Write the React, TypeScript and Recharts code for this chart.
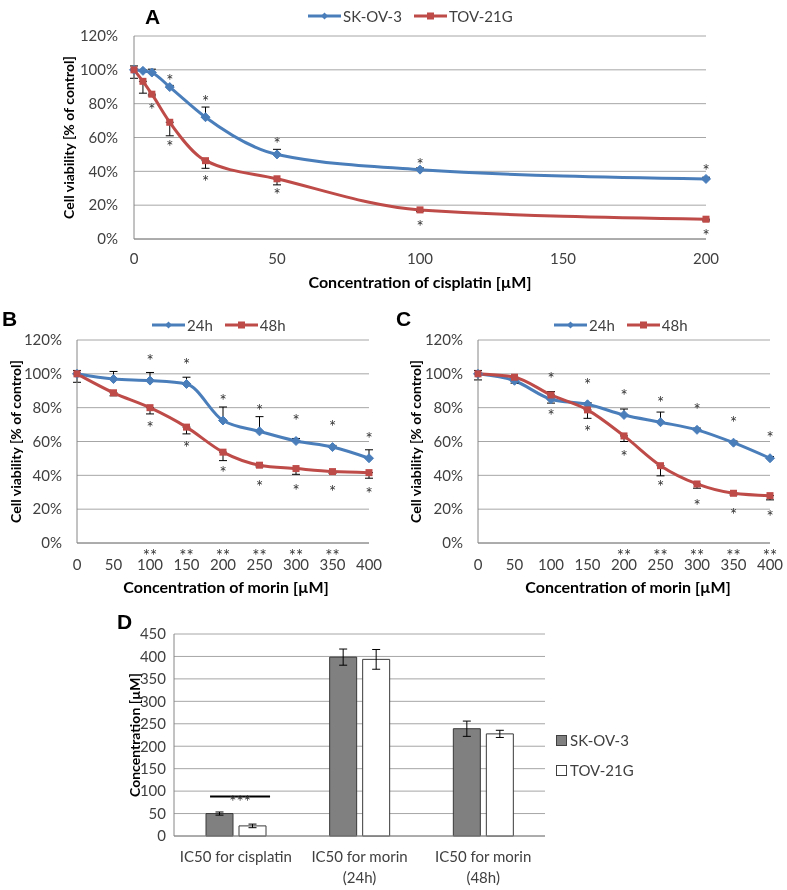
import React from 'react';
import {
  ComposedChart,
  Line,
  Scatter,
  XAxis,
  YAxis,
  CartesianGrid,
  ErrorBar,
  Legend,
  BarChart,
  Bar,
  LabelList,
} from 'recharts';

const FONT = 'Lato, "Open Sans", "DejaVu Sans", sans-serif';
const TEXT = '#404040';
const BLUE = '#4a7ebb';
const RED = '#be4b48';
const GRID = '#a6a6a6';
const AXIS = '#868686';
const TICK_SIZE = 15;
const STAR_SIZE = 17;

// ---------- Panel A : cisplatin ----------
const concA = [0, 3.125, 6.25, 12.5, 25, 50, 100, 200];
const skov3A = [100, 99.4, 98.4, 89.8, 72, 50, 41, 35.5];
const skov3ErrA = [2.3, 0.5, 2, 1, 6, 3, 1, 1];
const tov21gA = [100, 93.2, 85.6, 69, 46.3, 35.6, 17.2, 11.7];
const tov21gErrA = [5, 7, 1, 8, 4.5, 3.6, 1, 1];
const starsUpXA = [12.5, 25, 50, 100, 200];
const starsUpYA = [95.9, 83.5, 58.5, 46.3, 42.6];
const starsDownXA = [6.25, 12.5, 25, 50, 100, 200];
const starsDownYA = [78.6, 56.5, 36, 28.1, 9.7, 4.4];
const xTicksA = [0, 50, 100, 150, 200];
const seriesNamesA = ['SK-OV-3', 'TOV-21G'];

// ---------- Panels B, C : morin ----------
const concMorin = [0, 50, 100, 150, 200, 250, 300, 350, 400];
const seriesNamesMorin = ['24h', '48h'];

const h24B = [100, 96.9, 96, 94, 72.4, 66, 60.3, 56.7, 50.1];
const h24ErrB = [2, 4.5, 4.8, 4, 8, 8.7, 1.5, 1, 5];
const h48B = [100, 88.8, 80, 68.5, 53.7, 46, 44, 42.2, 41.6];
const h48ErrB = [5, 1.8, 3.7, 4, 5, 1, 3.4, 1, 3.3];
const starsUpXB = [100, 150, 200, 250, 300, 350, 400];
const starsUpYB = [109.8, 107.7, 86.6, 80.3, 74.7, 71, 63.9];
const starsDownXB = [100, 150, 200, 250, 300, 350, 400];
const starsDownYB = [70.4, 58.6, 43.7, 35.3, 33.3, 32.4, 31.4];
const doubleStarsB = [100, 150, 200, 250, 300, 350];

const h24C = [100, 95.9, 85, 82, 75.7, 71.4, 66.9, 59.3, 50.1];
const h24ErrC = [2, 1, 4.5, 1, 3.5, 6, 1, 1, 1];
const h48C = [100, 98, 87.5, 78.7, 63.3, 45.7, 34.9, 29.4, 28];
const h48ErrC = [3.6, 3.5, 4.8, 5, 3.3, 6, 2.5, 1, 2.5];
const starsUpXC = [100, 150, 200, 250, 300, 350, 400];
const starsUpYC = [99.4, 95.9, 89.5, 85.2, 80.7, 73.2, 64.3];
const starsDownXC = [100, 150, 200, 250, 300, 350, 400];
const starsDownYC = [77.3, 68.2, 53, 35.3, 24.4, 19.1, 17.6];
const doubleStarsC = [200, 250, 300, 350, 400];

const xTicksMorin = [0, 50, 100, 150, 200, 250, 300, 350, 400];
const yTicksPct = [0, 20, 40, 60, 80, 100, 120];

// ---------- Panel D : IC50 ----------
const categoriesD = ['IC50 for cisplatin', 'IC50 for morin (24h)', 'IC50 for morin (48h)'];
const seriesNamesD = ['SK-OV-3', 'TOV-21G'];
const ic50SKOV3 = [50, 398.5, 239];
const ic50SKOV3Err = [3.5, 18, 17];
const ic50TOV21G = [22.5, 393.5, 227.5];
const ic50TOV21GErr = [4, 22, 8];
const yTicksD = [0, 50, 100, 150, 200, 250, 300, 350, 400, 450];
const sigLevelD = 88;
const sigTextD = '***';

// ---------- helpers ----------
const mkSeries = (xs: number[], ys: number[], errs: number[], up: boolean) =>
  xs.map((x, i) => ({ x, y: ys[i], e: up ? [0, errs[i]] : [errs[i], 0] }));
const mkPts = (xs: number[], ys: number[]) => xs.map((x, i) => ({ x, y: ys[i] }));

const dataD = categoriesD.map((name, i) => ({
  name,
  sk: ic50SKOV3[i],
  skErr: ic50SKOV3Err[i],
  tov: ic50TOV21G[i],
  tovErr: ic50TOV21GErr[i],
}));

const DiamondDot = (p: any) => {
  const { cx, cy, index } = p;
  if (cx == null || cy == null) return null;
  const r = 4.5;
  return (
    <path
      key={`dm-${index}`}
      d={`M${cx},${cy - r}L${cx + r},${cy}L${cx},${cy + r}L${cx - r},${cy}Z`}
      fill={BLUE}
      stroke={BLUE}
      strokeWidth={1}
    />
  );
};

const SquareDot = (p: any) => {
  const { cx, cy, index } = p;
  if (cx == null || cy == null) return null;
  return <rect key={`sq-${index}`} x={cx - 3.5} y={cy - 3.5} width={7} height={7} fill={RED} />;
};

const StarShape = (p: any) => (
  <text x={p.cx} y={p.cy + 10} textAnchor="middle" fontFamily={FONT} fontSize={STAR_SIZE} fill="#333">
    *
  </text>
);

const makeXTick = (doubleStars: number[], numBase: number) => (p: any) => {
  const { x, y, payload } = p;
  const ax = y - 8;
  const has = doubleStars.includes(payload.value);
  return (
    <text x={x} textAnchor="middle" fontFamily={FONT} fill={TEXT}>
      {has && (
        <tspan x={x} y={ax + 19} fontSize={STAR_SIZE} fill="#333">
          **
        </tspan>
      )}
      <tspan x={x} y={ax + numBase} fontSize={TICK_SIZE}>
        {payload.value}
      </tspan>
    </text>
  );
};

const yTitle = (text: string, cx: number) => (p: any) => {
  const vb = p.viewBox || {};
  const cy = (vb.y ?? 0) + (vb.height ?? 0) / 2;
  return (
    <text
      x={cx}
      y={cy}
      transform={`rotate(-90, ${cx}, ${cy})`}
      textAnchor="middle"
      dominantBaseline="central"
      fontFamily={FONT}
      fontSize={14}
      fontWeight="bold"
      fill="#000"
    >
      {text}
    </text>
  );
};

const xTitle = (text: string, cx: number, baseline: number) => () => (
  <text x={cx} y={baseline} textAnchor="middle" fontFamily={FONT} fontSize={16} fontWeight="bold" fill="#000">
    {text}
  </text>
);

const LineLegend = ({ names }: { names: string[] }) => (
  <div
    style={{
      display: 'flex',
      alignItems: 'center',
      gap: 12,
      fontFamily: FONT,
      fontSize: 15,
      color: TEXT,
      whiteSpace: 'nowrap',
      height: 20,
    }}
  >
    {names.map((n, i) => (
      <div key={n} style={{ display: 'flex', alignItems: 'center', gap: 2 }}>
        <svg width={33} height={10}>
          <line x1={0} y1={5} x2={33} y2={5} stroke={i === 0 ? BLUE : RED} strokeWidth={3} />
          {i === 0 ? (
            <path d="M16.5,1.5L20,5L16.5,8.5L13,5Z" fill={BLUE} />
          ) : (
            <rect x={13} y={1.5} width={7} height={7} fill={RED} />
          )}
        </svg>
        <span>{n}</span>
      </div>
    ))}
  </div>
);

const BarLegend = () => (
  <div style={{ fontFamily: FONT, fontSize: 15, color: TEXT, whiteSpace: 'nowrap' }}>
    {seriesNamesD.map((n, i) => (
      <div key={n} style={{ display: 'flex', alignItems: 'center', height: 30 }}>
        <span
          style={{
            display: 'inline-block',
            width: 9,
            height: 9,
            border: '1px solid #404040',
            background: i === 0 ? '#808080' : '#fff',
            marginRight: 3,
          }}
        />
        {n}
      </div>
    ))}
  </div>
);

const CatTick = (p: any) => {
  const { x, y, payload } = p;
  const s: string = payload.value;
  const k = s.indexOf(' (');
  const lines = k >= 0 ? [s.slice(0, k), s.slice(k + 1)] : [s];
  return (
    <text x={x} textAnchor="middle" fontFamily={FONT} fontSize={TICK_SIZE} fill={TEXT}>
      {lines.map((l, i) => (
        <tspan key={i} x={x} y={y + 18 + i * 21}>
          {l}
        </tspan>
      ))}
    </text>
  );
};

const SigMark = (p: any) => {
  const vb = p.viewBox && p.viewBox.width != null ? p.viewBox : p;
  const idx = p.index;
  const isFirst = idx !== undefined ? idx === 0 : p.value === ic50SKOV3[0];
  if (!isFirst) return null;
  const { x, y, width, height } = vb;
  const ppu = height / ic50SKOV3[0];
  const base = y + height;
  const yLine = base - sigLevelD * ppu;
  const span = 2 * width + 6;
  const x0 = x + 0.15 * width;
  return (
    <g>
      <line x1={x0} x2={x0 + span} y1={yLine} y2={yLine} stroke="#000" strokeWidth={2} />
      <text x={x0 + span / 2} y={yLine + 12} textAnchor="middle" fontFamily={FONT} fontSize={STAR_SIZE} fill="#333">
        {sigTextD}
      </text>
    </g>
  );
};

type ViabilityProps = {
  width: number;
  height: number;
  margin: { top: number; right: number; bottom: number; left: number };
  yAxisWidth: number;
  yTickMargin: number;
  yTitleX: number;
  xAxisHeight: number;
  xTicks: number[];
  xDomain: [number, number];
  xTitleText: string;
  xTitleX: number;
  xTitleBaseline: number;
  numBase: number;
  lineBlue: any[];
  lineRed: any[];
  starsUp: any[];
  starsDown: any[];
  doubleStars: number[];
  legendLeft: number;
  legendTop: number;
  names: string[];
};

const ViabilityChart = (props: ViabilityProps) => {
  const {
    width, height, margin, yAxisWidth, yTickMargin, yTitleX, xAxisHeight, xTicks, xDomain,
    xTitleText, xTitleX, xTitleBaseline, numBase, lineBlue, lineRed, starsUp, starsDown,
    doubleStars, legendLeft, legendTop, names,
  } = props;
  return (
    <ComposedChart width={width} height={height} margin={margin}>
      <CartesianGrid horizontal vertical={false} stroke={GRID} />
      <XAxis
        type="number"
        dataKey="x"
        domain={xDomain}
        ticks={xTicks}
        interval={0}
        height={xAxisHeight}
        axisLine={{ stroke: AXIS }}
        tickLine={false}
        tick={makeXTick(doubleStars, numBase)}
        label={xTitle(xTitleText, xTitleX, xTitleBaseline)}
      />
      <YAxis
        type="number"
        domain={[0, 120]}
        ticks={yTicksPct}
        interval={0}
        width={yAxisWidth}
        tickFormatter={(v: number) => `${v}%`}
        axisLine={{ stroke: AXIS }}
        tickLine={false}
        tickMargin={yTickMargin}
        tick={{ fill: TEXT, fontSize: TICK_SIZE, fontFamily: FONT }}
        label={yTitle('Cell viability [% of control]', yTitleX)}
      />
      <Line
        data={lineBlue}
        dataKey="y"
        name={names[0]}
        type="monotone"
        stroke={BLUE}
        strokeWidth={3}
        dot={DiamondDot}
        activeDot={false}
        isAnimationActive={false}
      >
        <ErrorBar dataKey="e" width={4} stroke="#000" strokeWidth={1} direction="y" />
      </Line>
      <Line
        data={lineRed}
        dataKey="y"
        name={names[1]}
        type="monotone"
        stroke={RED}
        strokeWidth={3}
        dot={SquareDot}
        activeDot={false}
        isAnimationActive={false}
      >
        <ErrorBar dataKey="e" width={4} stroke="#000" strokeWidth={1} direction="y" />
      </Line>
      <Scatter data={starsUp} dataKey="y" shape={StarShape} isAnimationActive={false} legendType="none" />
      <Scatter data={starsDown} dataKey="y" shape={StarShape} isAnimationActive={false} legendType="none" />
      <Legend
        layout="vertical"
        align="center"
        verticalAlign="middle"
        wrapperStyle={{ left: legendLeft, top: legendTop, width: 'auto' }}
        content={() => <LineLegend names={names} />}
      />
    </ComposedChart>
  );
};

const PanelLetter = ({ t, left, top }: { t: string; left: number; top: number }) => (
  <div
    style={{
      position: 'absolute',
      left,
      top,
      fontFamily: '"Liberation Sans", Arial, sans-serif',
      fontWeight: 'bold',
      fontSize: 21,
      lineHeight: '21px',
      color: '#000',
    }}
  >
    {t}
  </div>
);

const layer = (left: number, top: number): React.CSSProperties => ({
  position: 'absolute',
  left,
  top,
  willChange: 'transform',
});

export default function App() {
  return (
    <div
      style={{
        position: 'absolute',
        left: 0,
        top: 0,
        width: 787,
        height: 890,
        background: '#fff',
        overflow: 'hidden',
      }}
    >
      {/* Panel A */}
      <div style={layer(0, 0)}>
        <ViabilityChart
          width={787}
          height={300}
          margin={{ top: 36, right: 81, left: 0, bottom: 11 }}
          yAxisWidth={134}
          yTickMargin={10}
          yTitleX={68}
          xAxisHeight={50}
          xTicks={xTicksA}
          xDomain={[0, 200]}
          xTitleText="Concentration of cisplatin [µM]"
          xTitleX={420}
          xTitleBaseline={288}
          numBase={25}
          lineBlue={mkSeries(concA, skov3A, skov3ErrA, true)}
          lineRed={mkSeries(concA, tov21gA, tov21gErrA, false)}
          starsUp={mkPts(starsUpXA, starsUpYA)}
          starsDown={mkPts(starsDownXA, starsDownYA)}
          doubleStars={[]}
          legendLeft={308}
          legendTop={6}
          names={seriesNamesA}
        />
      </div>
      <PanelLetter t="A" left={145} top={6} />

      {/* Panel B */}
      <div style={layer(0, 300)}>
        <ViabilityChart
          width={390}
          height={310}
          margin={{ top: 40, right: 21, left: 0, bottom: 18 }}
          yAxisWidth={77}
          yTickMargin={9}
          yTitleX={15}
          xAxisHeight={49}
          xTicks={xTicksMorin}
          xDomain={[0, 400]}
          xTitleText="Concentration of morin [µM]"
          xTitleX={226}
          xTitleBaseline={293}
          numBase={27}
          lineBlue={mkSeries(concMorin, h24B, h24ErrB, true)}
          lineRed={mkSeries(concMorin, h48B, h48ErrB, false)}
          starsUp={mkPts(starsUpXB, starsUpYB)}
          starsDown={mkPts(starsDownXB, starsDownYB)}
          doubleStars={doubleStarsB}
          legendLeft={152}
          legendTop={15}
          names={seriesNamesMorin}
        />
      </div>
      <PanelLetter t="B" left={2} top={308} />

      {/* Panel C */}
      <div style={layer(390, 300)}>
        <ViabilityChart
          width={397}
          height={310}
          margin={{ top: 40, right: 17, left: 0, bottom: 18 }}
          yAxisWidth={88}
          yTickMargin={9}
          yTitleX={25}
          xAxisHeight={49}
          xTicks={xTicksMorin}
          xDomain={[0, 400]}
          xTitleText="Concentration of morin [µM]"
          xTitleX={238}
          xTitleBaseline={293}
          numBase={27}
          lineBlue={mkSeries(concMorin, h24C, h24ErrC, true)}
          lineRed={mkSeries(concMorin, h48C, h48ErrC, false)}
          starsUp={mkPts(starsUpXC, starsUpYC)}
          starsDown={mkPts(starsDownXC, starsDownYC)}
          doubleStars={doubleStarsC}
          legendLeft={164}
          legendTop={15}
          names={seriesNamesMorin}
        />
      </div>
      <PanelLetter t="C" left={396} top={308} />

      {/* Panel D */}
      <div style={layer(100, 610)}>
        <BarChart
          width={587}
          height={280}
          data={dataD}
          margin={{ top: 24, right: 142, left: 0, bottom: 0 }}
          barSize={27}
          barGap={6}
        >
          <CartesianGrid vertical={false} stroke={GRID} />
          <XAxis
            dataKey="name"
            height={54}
            axisLine={{ stroke: AXIS }}
            tickLine={false}
            tick={CatTick}
            interval={0}
          />
          <YAxis
            type="number"
            domain={[0, 450]}
            ticks={yTicksD}
            interval={0}
            width={74}
            axisLine={{ stroke: AXIS }}
            tickLine={false}
            tickMargin={2}
            tick={{ fill: TEXT, fontSize: TICK_SIZE, fontFamily: FONT }}
            label={yTitle('Concentration [µM]', 34)}
          />
          <Bar dataKey="sk" name={seriesNamesD[0]} fill="#808080" stroke="#3a3a3a" strokeWidth={1} isAnimationActive={false}>
            <ErrorBar dataKey="skErr" width={4} stroke="#000" strokeWidth={1} />
            <LabelList dataKey="sk" content={SigMark} />
          </Bar>
          <Bar dataKey="tov" name={seriesNamesD[1]} fill="#ffffff" stroke="#3a3a3a" strokeWidth={1} isAnimationActive={false}>
            <ErrorBar dataKey="tovErr" width={4} stroke="#000" strokeWidth={1} />
          </Bar>
          <Legend
            layout="vertical"
            align="center"
            verticalAlign="middle"
            wrapperStyle={{ left: 456, top: 115, width: 'auto' }}
            content={() => <BarLegend />}
          />
        </BarChart>
      </div>
      <PanelLetter t="D" left={117} top={611} />
    </div>
  );
}
